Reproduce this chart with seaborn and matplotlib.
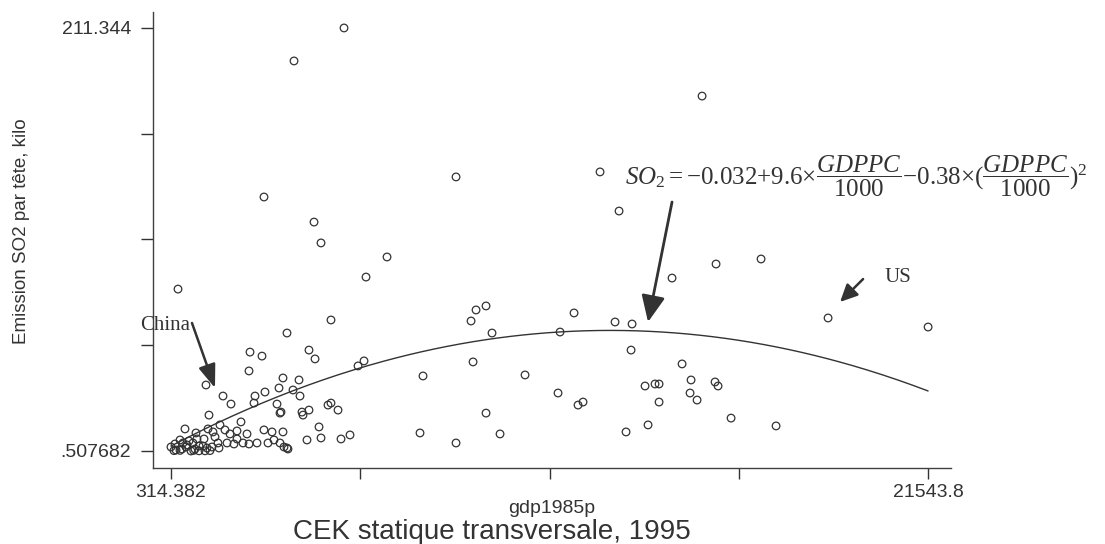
import seaborn as sns
import matplotlib
matplotlib.use('Agg')
import matplotlib.pyplot as plt
import numpy as np
import pandas as pd

sns.set_style('ticks')
plt.rcParams['font.family'] = ['Liberation Sans', 'DejaVu Sans']
plt.rcParams['mathtext.fontset'] = 'custom'
plt.rcParams['mathtext.rm'] = 'Liberation Serif'
plt.rcParams['mathtext.it'] = 'Liberation Serif:italic'

# gdp per capita (1985 $) and SO2 emission per head (kilo)
gdp = [5166, 3764, 2922, 4325, 4521, 6372, 5783, 8307, 12345, 15206,
       12878, 14364, 15598, 16860, 511, 4801, 3567, 2530, 2866, 4184,
       4353, 2502, 5559, 5727, 3455, 3904, 3343, 3736, 1296, 1773,
       2670, 2950, 3932, 9148, 8868, 8728, 9316, 11616, 11224, 12766,
       13243, 13215, 8784, 7381, 10242, 11167, 11728, 11868, 13607, 13887,
       14000, 14000, 9148, 13691, 13074, 7297, 9541, 8307, 18739, 21543.8,
       14645, 14897, 15570, 15654, 14869, 15066, 16019, 17281, 4717, 4801,
       4998, 4184, 3988, 4016, 3399, 3455, 4465, 4128, 4521, 5082,
       5334, 3567, 3595, 3371, 1997, 2642, 3287, 3371, 1380, 2277,
       1688, 1352, 1015, 707, 1492, 1829, 2165, 1969, 2446, 2922,
       3147, 1240, 1548, 2165, 2333, 2502, 2726, 3035, 3203, 3483,
       2081, 1885, 1632, 1464, 1324, 1100, 931, 819, 567, 426,
       314.382, 455, 623, 735, 875, 987, 1100, 1212, 567, 398,
       1268, 950, 1043, 1660, 651, 1408, 763]
so2 = [211.344, 194.9, 127.1, 114.6, 104.2, 97.2, 87.2, 137.1, 139.6, 177.4,
       120.1, 86.7, 93.7, 96.2, 81.2, 65.8, 59.3, 49.8, 47.8, 50.8,
       46.4, 40.4, 42.9, 45.4, 36.9, 35.9, 31.9, 30.9, 33.4, 27.9,
       27.9, 29.9, 27.9, 72.8, 70.8, 65.3, 59.3, 69.3, 59.8, 64.8,
       63.8, 50.8, 44.9, 37.9, 38.4, 29.4, 23.4, 24.9, 32.9, 33.9,
       33.9, 24.9, 19.4, 13.5, 10.0, 9.5, 9.0, 4.5, 66.8, 62.3,
       43.9, 35.9, 34.9, 32.9, 29.4, 25.9, 16.9, 13.0, 23.4, 24.4,
       20.9, 20.9, 19.9, 18.4, 19.9, 10.0, 12.5, 6.0, 7.0, 6.5,
       8.5, 2.0, 1.5, 4.5, 23.9, 24.4, 23.9, 19.4, 18.4, 15.0,
       13.5, 11.5, 9.5, 11.5, 10.0, 11.0, 10.5, 9.0, 9.0, 11.0,
       10.0, 6.5, 7.5, 6.5, 4.5, 4.0, 4.5, 4.5, 6.0, 2.5,
       4.0, 4.5, 4.5, 2.5, 2.0, 3.0, 4.5, 5.5, 6.0, 4.0,
       2.5, 1.0, 1.5, 2.5, 0.507682, 1.5, 0.6, 3.0, 0.8, 0.7,
       0.6, 0.8, 6.5, 2.0, 4.5, 0.7, 3.5]

# quadratic fit shown on the chart: SO2 = b0 + b1*(g/1000) + b2*(g/1000)^2
fit_coef = [-0.38, 9.6, -0.032]

x_ticks = [314.382, 5621.737, 10929.09, 16236.45, 21543.8]
x_ticklabels = ['314.382', '', '', '', '21543.8']
y_ticks = [0.507682, 53.21676, 105.9258, 158.6349, 211.344]
y_ticklabels = ['.507682', '', '', '', '211.344']

df = pd.DataFrame({'gdp1985p': gdp, 'so2': so2})

ink = '#333333'
fig = plt.figure(figsize=(11.05, 5.44), dpi=100)
ax = fig.add_axes([153 / 1105, 76 / 544, 798 / 1105, 456 / 544])

sns.scatterplot(data=df, x='gdp1985p', y='so2', marker='o', s=30,
                facecolor='none', edgecolor=ink, linewidth=0.9, ax=ax)

g = np.linspace(min(gdp), max(gdp), 300)
sns.lineplot(x=g, y=np.polyval(fit_coef, g / 1000), color=ink, linewidth=1.0, ax=ax)

ax.set_xlim(-190, 22186)
ax.set_ylim(-7.97, 219.3)
ax.set_xticks(x_ticks)
ax.set_xticklabels(x_ticklabels)
ax.set_yticks(y_ticks)
ax.set_yticklabels(y_ticklabels)
ax.tick_params(axis='both', colors=ink, labelsize=14, width=1)
ax.tick_params(axis='y', length=8.6, pad=7)
ax.tick_params(axis='x', length=8, pad=3.5)
sns.despine(ax=ax)
for side in ['left', 'bottom']:
    ax.spines[side].set_color('#404040')
    ax.spines[side].set_linewidth(1)
ax.set_xlabel('gdp1985p', fontsize=14, color=ink, labelpad=-1)
ax.set_ylabel('')
fig.text(22 / 1105, 1 - 231 / 544, 'Emission SO2 par tête, kilo', rotation=90,
         ha='center', va='center', fontsize=13.5, color=ink)
fig.text(492 / 1105, 5 / 544, 'CEK statique transversale, 1995',
         ha='center', va='baseline', fontsize=20, color=ink)

eq = (r'$\mathit{SO}_{2}=\mathit{{-}0.032{+}9.6}{\times}\dfrac{\mathit{GDPPC}}{\mathit{1000}}'
      r'{-}0.38{\times}\mathit{(}\dfrac{\mathit{GDPPC}}{\mathit{1000}}\mathit{)}^{2}$')
ax.text(13046, 137.6, eq, fontsize=18, color=ink, ha='left', va='center')
ax.annotate('', xy=(13691, 64.8), xytext=(14364, 124.6),
            arrowprops=dict(arrowstyle='-|>,head_length=0.8,head_width=0.36',
                            color=ink, lw=2, mutation_scale=20, shrinkA=0, shrinkB=0))

ax.annotate('', xy=(19076, 74.8), xytext=(19721, 86.2),
            arrowprops=dict(arrowstyle='-|>,head_length=0.75,head_width=0.36',
                            color=ink, lw=1.8, mutation_scale=14, shrinkA=0, shrinkB=0))
ax.text(20309, 87.2, 'US', fontsize=15, family='Liberation Serif', color=ink,
        ha='left', va='center')

ax.annotate('', xy=(1548, 31.9), xytext=(903, 64.3),
            arrowprops=dict(arrowstyle='-|>,head_length=0.95,head_width=0.35',
                            color=ink, lw=1.8, mutation_scale=15, shrinkA=0, shrinkB=0))
ax.text(847, 63.3, 'China', fontsize=15, family='Liberation Serif', color=ink,
        ha='right', va='center')

fig.savefig('out.png', dpi=100)
